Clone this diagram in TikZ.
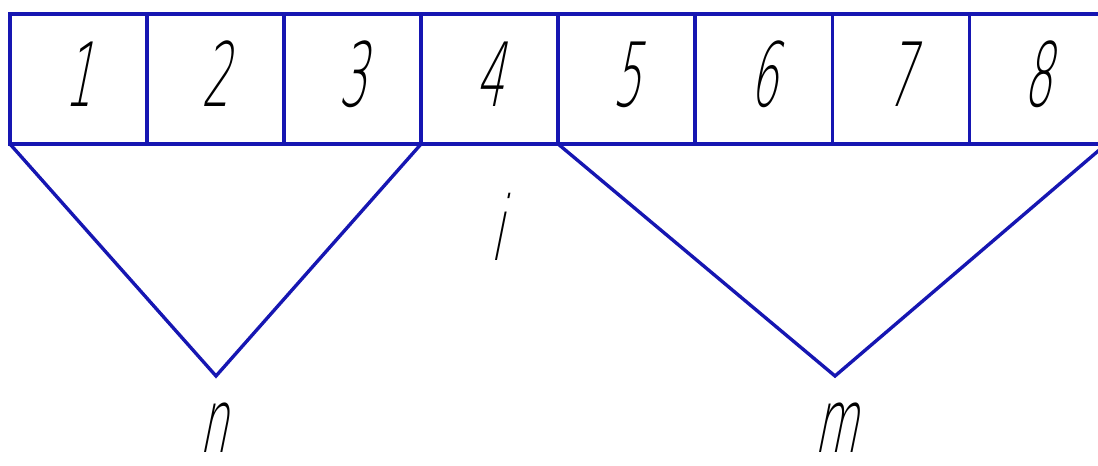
\documentclass[tikz,border=0pt]{standalone}
\usepackage{fontspec}
\usepackage{tikz}
\usetikzlibrary{positioning}
\newfontfamily\gostfont[FakeStretch=0.5,FakeSlant=0.2]{DejaVuSans-ExtraLight.ttf}
\definecolor{lineblue}{RGB}{22,22,178}

\begin{document}
\begin{tikzpicture}[x=0.025cm, y=-0.025cm, node distance=3.425cm,
		cell/.style={draw=lineblue, line width=2.4pt, minimum width=3.425cm, minimum height=3.25cm,
			inner sep=0pt, outer sep=0pt, text depth=0.25cm, font=\gostfont\fontsize{63}{63}\selectfont},
		leg/.style={draw=lineblue, line width=2.4pt, line join=miter},
		lbl/.style={anchor=base, inner sep=0pt, font=\gostfont\fontsize{63}{63}\selectfont}]
		\useasboundingbox (0,0) rectangle (1098,466);
		% row of cells
		\node[cell] (c1) at (78.5,79) {1};
		\node[cell] (c2) [right of=c1] {2};
		\node[cell] (c3) [right of=c2] {3};
		\node[cell] (c4) [right of=c3] {4};
		\node[cell] (c5) [right of=c4] {5};
		\node[cell] (c6) [right of=c5] {6};
		\node[cell] (c7) [right of=c6] {7};
		\node[cell] (c8) [right of=c7] {8};
		% apexes
		\coordinate (na) at (216,376);
		\coordinate (ma) at (835,376);
		\draw[leg] (c1.south west) -- (na) -- (c3.south east);
		\draw[leg] (c5.south west) -- (ma) -- (c8.south east);
		% labels
		\node[lbl] (n) at (214,452) {n};
		\node[lbl] (i) at (497,260) {i};
		\node[lbl] (m) at (836,452) {m};
	\end{tikzpicture}
\end{document}
